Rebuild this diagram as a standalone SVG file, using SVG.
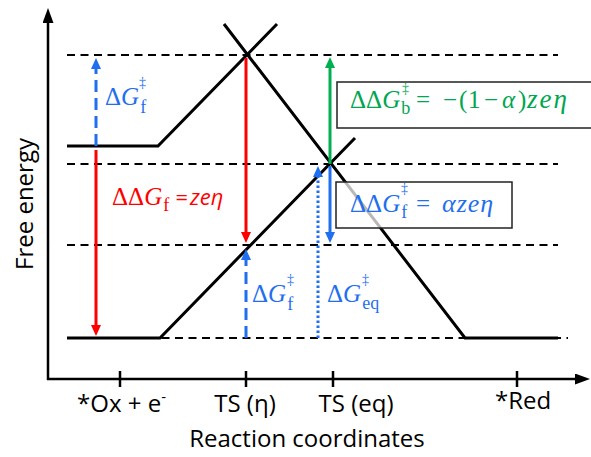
<svg xmlns="http://www.w3.org/2000/svg" width="591" height="457" viewBox="0 0 591 457">
<defs>
<style>
.ax{stroke:#000;stroke-width:2.5;fill:none}
.cv{stroke:#000;stroke-width:3;fill:none;stroke-linecap:butt}
.dl{stroke:#000;stroke-width:2;stroke-dasharray:8 5.5;fill:none}
.lbl{font-family:"Open Sans","Liberation Sans",sans-serif;font-size:24px;fill:#000}
.m{font-family:"Liberation Serif","DejaVu Serif",serif;font-size:25px}
.it{font-style:italic}
.sub{font-size:18px}
.dg{font-size:14px}
.sans{font-family:"Open Sans","Liberation Sans",sans-serif;font-style:italic;font-size:22px}
.blue{fill:#1f6fef}
.red{fill:#ff0000}
.green{fill:#00a650}
.box{stroke:#222;stroke-width:1.5}
</style>
<marker id="ahK" viewBox="0 0 15 11" refX="1" refY="5.5" markerWidth="15" markerHeight="11" markerUnits="userSpaceOnUse" orient="auto"><path d="M0,0 L15,5.5 L0,11 z" fill="#000"/></marker>
<marker id="ahB" viewBox="0 0 11 10" refX="1" refY="5" markerWidth="11" markerHeight="10" markerUnits="userSpaceOnUse" orient="auto"><path d="M0,0 L11,5 L0,10 z" fill="#1f6fef"/></marker>
<marker id="ahR" viewBox="0 0 11 10" refX="1" refY="5" markerWidth="11" markerHeight="10" markerUnits="userSpaceOnUse" orient="auto"><path d="M0,0 L11,5 L0,10 z" fill="#ff0000"/></marker>
<marker id="ahG" viewBox="0 0 11 10" refX="1" refY="5" markerWidth="11" markerHeight="10" markerUnits="userSpaceOnUse" orient="auto"><path d="M0,0 L11,5 L0,10 z" fill="#00b050"/></marker>
</defs>
<rect width="591" height="457" fill="#fff"/>

<g id="axes">
<line class="ax" x1="48" y1="380" x2="48" y2="22" marker-end="url(#ahK)"/>
<line class="ax" x1="47" y1="379" x2="576" y2="379" marker-end="url(#ahK)"/>
<line class="ax" x1="120" y1="371" x2="120" y2="387"/>
<line class="ax" x1="246" y1="371" x2="246" y2="387"/>
<line class="ax" x1="333" y1="371" x2="333" y2="387"/>
<line class="ax" x1="517" y1="371" x2="517" y2="387"/>
<text class="lbl" transform="translate(33,204) rotate(-90)" text-anchor="middle" font-size="28.5">Free energy</text>
<text class="lbl" x="307" y="447" text-anchor="middle" font-size="25.5">Reaction coordinates</text>
<text class="lbl" x="77" y="412">*Ox + e<tspan font-size="15" dy="-10">-</tspan></text>
<text class="lbl" x="245" y="412" text-anchor="middle">TS (η)</text>
<text class="lbl" x="356" y="412" text-anchor="middle">TS (eq)</text>
<text class="lbl" x="495" y="409">*Red</text>
</g>

<g id="levels">
<line class="dl" x1="67" y1="55" x2="558" y2="55"/>
<line class="dl" x1="67" y1="164" x2="558" y2="164"/>
<line class="dl" x1="67" y1="245" x2="558" y2="245"/>
<line class="dl" x1="67" y1="338" x2="568" y2="338"/>
</g>

<g id="curves">
<polyline class="cv" points="67,146 158,146 277,24"/>
<polyline class="cv" points="67,338 160,338 355,138"/>
<polyline class="cv" points="224,24 465,338 558,338"/>
</g>

<g id="connectors">
<line x1="96" y1="146" x2="96" y2="68" stroke="#1f6fef" stroke-width="3" stroke-dasharray="12 6" marker-end="url(#ahB)"/>
<line x1="96" y1="150" x2="96" y2="326" stroke="#ff0000" stroke-width="3" marker-end="url(#ahR)"/>
<line x1="246" y1="58" x2="246" y2="233" stroke="#ff0000" stroke-width="3" marker-end="url(#ahR)"/>
<line x1="330" y1="164" x2="330" y2="67" stroke="#00b050" stroke-width="3" marker-end="url(#ahG)"/>
<line x1="330" y1="166" x2="330" y2="233" stroke="#1f6fef" stroke-width="3" marker-end="url(#ahB)"/>
<line x1="246" y1="338" x2="246" y2="259" stroke="#1f6fef" stroke-width="3" stroke-dasharray="12 6" marker-end="url(#ahB)"/>
<line x1="318" y1="338" x2="318" y2="176" stroke="#1f6fef" stroke-width="3" stroke-dasharray="2.5 2.5" marker-end="url(#ahB)"/>
</g>

<g id="label-dGf-top">
<text class="m blue" x="105" y="105" font-size="23">Δ<tspan class="it">G</tspan><tspan class="sub" dx="1" dy="8">f</tspan><tspan class="dg" x="139" y="87">‡</tspan></text>
</g>

<g id="label-ddGf-red">
<text class="m red" x="112" y="205">ΔΔ<tspan class="it">G</tspan><tspan class="sub" dx="1" dy="6">f</tspan><tspan class="sans" x="175" y="205">=</tspan><tspan class="sans" x="190" y="205">zeη</tspan></text>
</g>

<g id="label-dGf-low">
<text class="m blue" x="252" y="302" font-size="24">Δ<tspan class="it">G</tspan><tspan class="sub" dx="1" dy="8">f</tspan><tspan class="dg" x="287" y="284">‡</tspan></text>
</g>

<g id="label-dGeq">
<text class="m blue" x="327" y="302" font-size="24">Δ<tspan class="it">G</tspan><tspan class="sub" dx="1" dy="7">eq</tspan><tspan class="dg" x="362" y="284">‡</tspan></text>
</g>

<g id="box-green">
<rect class="box" x="337" y="82" width="262" height="46" fill="#fff"/>
<text class="m green" x="350" y="108">ΔΔ<tspan class="it">G</tspan><tspan class="sub" dx="1" dy="6">b</tspan><tspan class="dg" x="402" y="93">‡</tspan><tspan x="416" y="108">=</tspan><tspan x="443">−</tspan><tspan x="459">(</tspan><tspan x="468">1</tspan><tspan x="484">−</tspan><tspan class="it" x="502">α</tspan><tspan x="518">)</tspan><tspan class="it" x="527" font-size="27" letter-spacing="2">zeη</tspan></text>
</g>

<g id="box-blue">
<rect class="box" x="336" y="182" width="176" height="46" fill="#fff" fill-opacity="0.72"/>
<text class="m blue" x="350" y="212">ΔΔ<tspan class="it">G</tspan><tspan class="sub" dx="1" dy="6">f</tspan><tspan class="dg" x="401" y="193">‡</tspan><tspan x="416" y="212">=</tspan><tspan class="it" x="442" font-size="26" letter-spacing="1">αzeη</tspan></text>
</g>
</svg>
